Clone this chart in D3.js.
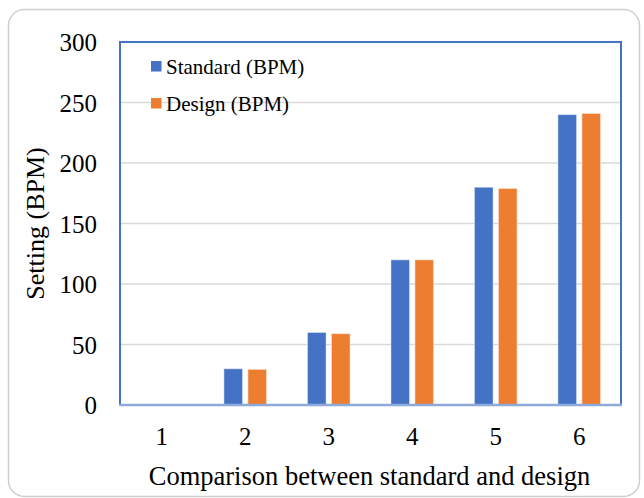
<!DOCTYPE html>
<html>
<head>
<meta charset="utf-8">
<script src="https://cdn.jsdelivr.net/npm/d3@7"></script>
<style>
  body { margin: 0; background: #fff; }
</style>
</head>
<body>
<div id="chart"></div>
<script>
// data
var categories = ["1", "2", "3", "4", "5", "6"];
var seriesNames = ["Standard (BPM)", "Design (BPM)"];
var standardValues = [0, 30, 60, 120, 180, 240];
var designValues = [0, 29.5, 59, 120, 179, 241];
var yTicks = [0, 50, 100, 150, 200, 250, 300];

var colors = ["#4472C4", "#ED7D31"];
var serif = "'Liberation Serif', serif";

var width = 644, height = 498;
var plot = { left: 120, right: 621, top: 42, bottom: 405 };

var svg = d3.select("#chart")
    .append("svg")
    .attr("width", width)
    .attr("height", height);

// outer rounded frame
svg.append("rect")
    .attr("x", 8.5)
    .attr("y", 9.5)
    .attr("width", 631)
    .attr("height", 487)
    .attr("rx", 16)
    .attr("fill", "#fff")
    .attr("stroke", "#cfcfcf")
    .attr("stroke-width", 1.5);

var x0 = d3.scaleBand()
    .domain(categories)
    .range([plot.left, plot.right]);

var x1 = d3.scaleBand()
    .domain(seriesNames)
    .range([0, x0.bandwidth()])
    .paddingInner(0.22)
    .paddingOuter(0.85);

var y = d3.scaleLinear()
    .domain([0, 300])
    .range([plot.bottom, plot.top]);

// gridlines
svg.append("g")
    .selectAll("line")
    .data(yTicks.slice(1))
    .join("line")
    .attr("x1", plot.left)
    .attr("x2", plot.right)
    .attr("y1", function (d) { return y(d) })
    .attr("y2", function (d) { return y(d) })
    .attr("stroke", "#d9d9d9")
    .attr("stroke-width", 1.5);

// bars
var table = categories.map(function (c, i) {
    return { cat: c, values: [standardValues[i], designValues[i]] };
});

var groups = svg.append("g")
    .selectAll("g")
    .data(table)
    .join("g")
    .attr("transform", function (d) { return "translate(" + x0(d.cat) + ",0)" });

groups.selectAll("rect")
    .data(function (d) {
        return d.values.map(function (v, j) { return { name: seriesNames[j], value: v, j: j } });
    })
    .join("rect")
    .attr("x", function (d) { return x1(d.name) })
    .attr("y", function (d) { return y(d.value) })
    .attr("width", x1.bandwidth())
    .attr("height", function (d) { return y(0) - y(d.value) })
    .attr("fill", function (d) { return colors[d.j] })
    .attr("stroke", "#ffffff")
    .attr("stroke-opacity", 0.5)
    .attr("stroke-width", 1);

// plot frame
svg.append("path")
    .attr("d", "M" + plot.left + "," + plot.bottom + "V" + plot.top + "H" + plot.right + "V" + plot.bottom)
    .attr("fill", "none")
    .attr("stroke", "#4472C4")
    .attr("stroke-width", 2);

// x axis line
svg.append("line")
    .attr("x1", plot.left - 1)
    .attr("x2", plot.right + 1)
    .attr("y1", plot.bottom)
    .attr("y2", plot.bottom)
    .attr("stroke", "#8eaadb")
    .attr("stroke-width", 2.5);

// y axis
var yAxis = svg.append("g")
    .attr("transform", "translate(" + plot.left + ",0)")
    .call(d3.axisLeft(y).tickValues(yTicks).tickSize(0).tickPadding(23));
yAxis.select(".domain").remove();
yAxis.selectAll("text")
    .style("font-family", serif)
    .style("font-size", "25px")
    .attr("fill", "#000")
    .attr("dy", "0.35em");

// x axis
var xAxis = svg.append("g")
    .attr("transform", "translate(0," + plot.bottom + ")")
    .call(d3.axisBottom(x0).tickSize(0).tickPadding(22));
xAxis.select(".domain").remove();
xAxis.selectAll("text")
    .style("font-family", serif)
    .style("font-size", "25px")
    .attr("fill", "#000");

// axis titles
svg.append("text")
    .attr("x", (plot.left + plot.right) / 2 - 1)
    .attr("y", 485)
    .attr("text-anchor", "middle")
    .style("font-family", serif)
    .style("font-size", "26.5px")
    .text("Comparison between standard and design");

svg.append("text")
    .attr("transform", "translate(44," + ((plot.top + plot.bottom) / 2) + ") rotate(-90)")
    .attr("text-anchor", "middle")
    .style("font-family", serif)
    .style("font-size", "26px")
    .text("Setting (BPM)");

// legend
var legend = svg.append("g")
    .selectAll("g")
    .data(seriesNames)
    .join("g")
    .attr("transform", function (d, i) { return "translate(151," + (61 + i * 37) + ")" });

legend.append("rect")
    .attr("width", 10.5)
    .attr("height", 10.5)
    .attr("fill", function (d, i) { return colors[i] });

legend.append("text")
    .attr("x", 15)
    .attr("y", 13)
    .style("font-family", serif)
    .style("font-size", "21px")
    .text(function (d) { return d });
</script>
</body>
</html>
